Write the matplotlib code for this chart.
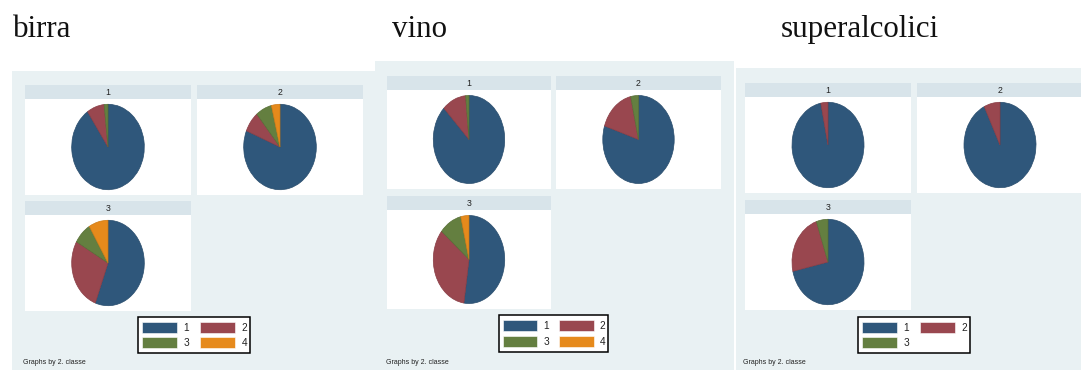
import matplotlib
matplotlib.use("Agg")
import matplotlib.pyplot as plt
from matplotlib.patches import Rectangle

# ---------------- data ----------------
titles = ["birra", "vino", "superalcolici"]
classi = ["1", "2", "3"]
categories_4 = ["1", "2", "3", "4"]
categories_3 = ["1", "2", "3"]

birra_1 = [90.5, 7.8, 1.7, 0.0]
birra_2 = [81.2, 7.8, 7.2, 3.8]
birra_3 = [55.7, 27.6, 8.1, 8.6]

vino_1 = [87.6, 10.9, 1.5, 0.0]
vino_2 = [80.0, 16.5, 3.5, 0.0]
vino_3 = [52.3, 33.8, 10.2, 3.7]

super_1 = [96.8, 3.2, 0.0]
super_2 = [92.8, 7.2, 0.0]
super_3 = [71.5, 23.3, 5.2]

footnote = "Graphs by 2. classe"

# ---------------- style ----------------
slice_colors = ["#2f577b", "#99474f", "#647f40", "#e68a1c"]
edge_colors = ["#284c6c", "#883c44", "#566e35", "#cc7a16"]
bg_color = "#e9f1f3"
head_color = "#d8e4ea"

W, H = 1081, 370
fig = plt.figure(figsize=(W / 100, H / 100), dpi=100)
fig.patch.set_facecolor("white")

over = fig.add_axes([0, 0, 1, 1], zorder=0)
over.set_xlim(0, W)
over.set_ylim(H, 0)
over.axis("off")


def px_axes(x0, y0, x1, y1, z=2):
    return fig.add_axes([x0 / W, 1 - y1 / H, (x1 - x0) / W, (y1 - y0) / H], zorder=z)


def rect(x0, y0, x1, y1, **kw):
    over.add_patch(Rectangle((x0, y0), x1 - x0, y1 - y0, **kw))


panels = [
    dict(title=titles[0], tx=13, bg=(12, 71, 376, 370),
         cells=[(25, 85, 191, 99, 195), (197, 85, 363, 99, 195), (25, 201, 191, 215, 311)],
         data=[birra_1, birra_2, birra_3], cats=categories_4,
         rx=36.3, ry=42.7, leg=(138, 317, 250, 353), foot=(23, 362)),
    dict(title=titles[1], tx=392, bg=(375, 61, 734, 370),
         cells=[(387, 76, 551, 90, 189), (556, 76, 721, 90, 189), (387, 196, 551, 210, 309)],
         data=[vino_1, vino_2, vino_3], cats=categories_4,
         rx=35.7, ry=44.0, leg=(499, 315, 608, 352), foot=(386, 362)),
    dict(title=titles[2], tx=781, bg=(736, 68, 1081, 370),
         cells=[(745, 83, 911, 97, 193), (917, 83, 1083, 97, 193), (745, 200, 911, 214, 310)],
         data=[super_1, super_2, super_3], cats=categories_3,
         rx=36.0, ry=42.7, leg=(858, 317, 970, 353), foot=(743, 362)),
]

for p in panels:
    over.text(p["tx"], 37, p["title"], family="Liberation Serif", fontsize=22.3,
              ha="left", va="baseline", color="#111111")
    bx0, by0, bx1, by1 = p["bg"]
    rect(bx0, by0, bx1, by1, facecolor=bg_color, edgecolor="none")

    for (x0, hy0, x1, hy1, wy1), vals, cl in zip(p["cells"], p["data"], classi):
        rect(x0, hy0, x1, hy1, facecolor=head_color, edgecolor="none")
        over.text((x0 + x1) / 2, (hy0 + hy1) / 2 + 0.5, cl, family="Liberation Sans",
                  fontsize=6.3, ha="center", va="center", color="#222222")
        ax = px_axes(x0, hy1, x1, wy1)
        nz = [(v, slice_colors[i], edge_colors[i]) for i, v in enumerate(vals) if v > 0]
        wedges, _ = ax.pie([v for v, _, _ in nz], colors=[c for _, c, _ in nz],
                           startangle=90, counterclock=False, radius=1.0,
                           wedgeprops=dict(linewidth=0.5))
        for w, (_, _, ec) in zip(wedges, nz):
            w.set_edgecolor(ec)
        ax.set_aspect("auto")
        hw = (x1 - x0) / 2 / p["rx"]
        hh = (wy1 - hy1) / 2 / p["ry"]
        ax.set_xlim(-hw, hw)
        ax.set_ylim(-hh, hh)
        ax.set_frame_on(True)
        for s in ax.spines.values():
            s.set_visible(False)
        ax.set_facecolor("white")
        ax.set_xticks([])
        ax.set_yticks([])

    # legend
    lx0, ly0, lx1, ly1 = p["leg"]
    rect(lx0, ly0, lx1, ly1, facecolor="white", edgecolor="black", linewidth=1.1)
    lw = lx1 - lx0
    lh = ly1 - ly0
    sw = lw * 0.315
    sh = lh * 0.30
    for i, cat in enumerate(p["cats"]):
        col = i % 2
        row = i // 2
        sx = lx0 + lw * 0.035 + col * lw * 0.52
        sy = ly0 + lh * 0.14 + row * lh * 0.42
        rect(sx, sy, sx + sw, sy + sh, facecolor=slice_colors[i], edgecolor="white", linewidth=0.4)
        over.text(sx + sw + lw * 0.055, sy + sh / 2 + 0.3, cat, family="Liberation Sans",
                  fontsize=7.3, ha="left", va="center", color="#222222")

    fx, fy = p["foot"]
    over.text(fx, fy, footnote, family="Liberation Sans", fontsize=5.0,
              ha="left", va="center", color="#222222")

fig.savefig("out.png", dpi=100, facecolor="white")
